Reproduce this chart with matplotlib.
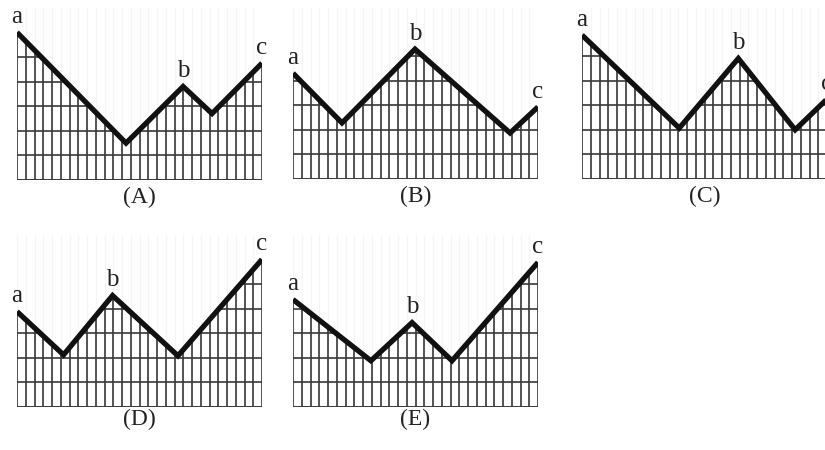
import numpy as np
import matplotlib.pyplot as plt
from matplotlib.patches import Polygon

# vertices of each profile: x as fraction of panel width, y in grid rows
names = ['A', 'B', 'C', 'D', 'E']
x_A = [0.0, 0.445, 0.678, 0.796, 1.0]
y_A = [6.0, 1.5, 3.8, 2.7, 4.75]
x_B = [0.0, 0.20, 0.498, 0.886, 1.0]
y_B = [4.3, 2.28, 5.28, 1.87, 2.93]
x_C = [0.0, 0.397, 0.638, 0.87, 1.0]
y_C = [5.85, 2.07, 4.9, 2.0, 3.25]
x_D = [0.0, 0.19, 0.39, 0.657, 1.0]
y_D = [3.88, 2.12, 4.53, 2.08, 6.0]
x_E = [0.0, 0.318, 0.486, 0.649, 1.0]
y_E = [4.37, 1.88, 3.43, 1.88, 5.88]
point_labels = ['a', 'b', 'c']
label_idx = [0, 2, 4]

xs = [x_A, x_B, x_C, x_D, x_E]
ys = [y_A, y_B, y_C, y_D, y_E]

# panel lower-left corners in pixels (figure is 825x450)
corners = [(17, 180), (293, 179), (582, 179), (17, 407), (293, 407)]
# caption distance below the panel, in pixels
cap_gap = [7, 7, 7, 2, 2]

W, H = 825, 450
pw, row = 245, 24.6
nrows_view = 7
ncols = 28

serif = ['Liberation Serif', 'DejaVu Serif']

fig = plt.figure(figsize=(8.25, 4.5), dpi=100)

for name, x, y, (cx, cy), gap in zip(names, xs, ys, corners, cap_gap):
    ax = fig.add_axes([cx / W, (H - cy) / H, pw / W, nrows_view * row / H])
    ax.set_xlim(0, 1)
    ax.set_ylim(0, nrows_view)
    ax.axis('off')

    # area under the profile, used to clip the grid
    verts = [(0, 0)] + list(zip(x, y)) + [(1, 0)]
    area = Polygon(verts, closed=True, facecolor='none', edgecolor='none')
    ax.add_patch(area)

    gx = np.linspace(0, 1, ncols + 1)
    # faint verticals above the profile
    ax.vlines(gx, 0, nrows_view, color='#f5f5f5', lw=1.0, zorder=0)
    vl = ax.vlines(gx, 0, nrows_view, color='#383838', lw=1.2, zorder=1)
    vl.set_clip_path(area)
    hl = ax.hlines(np.arange(1, 7), 0, 1, color='#383838', lw=1.2, zorder=1)
    hl.set_clip_path(area)
    ax.hlines([0], 0, 1, color='#383838', lw=1.4, zorder=1)

    ax.plot(x, y, color='#111111', lw=3.8, solid_joinstyle='miter',
            solid_capstyle='butt', zorder=3)

    for lab, i in zip(point_labels, label_idx):
        ax.annotate(lab, (x[i], y[i]), xytext=(0, 11), textcoords='offset points',
                    ha='center', va='center', fontsize=18, family=serif,
                    color='#222222', annotation_clip=False)

    ax.annotate('(' + name + ')', (0.5, 0), xycoords='axes fraction',
                xytext=(0, -gap * 72 / 100), textcoords='offset points',
                ha='center', va='top', fontsize=17, family=serif,
                color='#222222')

fig.savefig('out.png', dpi=100)
